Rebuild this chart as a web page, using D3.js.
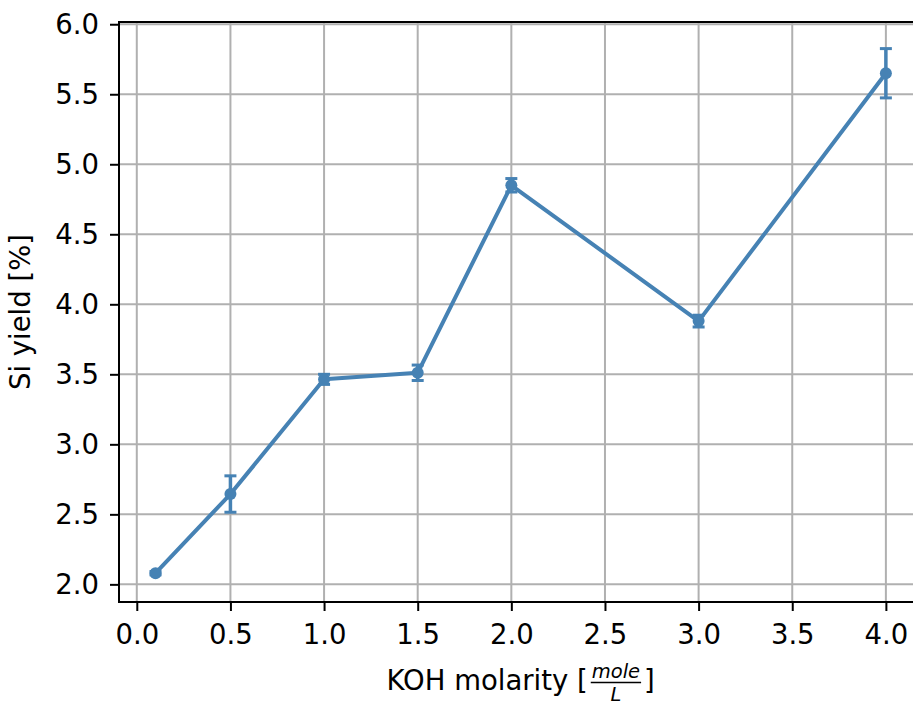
<!DOCTYPE html>
<html>
<head>
<meta charset="utf-8">
<script src="https://cdn.jsdelivr.net/npm/d3@7"></script>
<style>
  html, body { margin: 0; padding: 0; background: #fff; }
  svg { display: block; font-family: "DejaVu Sans", sans-serif; }
</style>
</head>
<body>
<svg id="chart" width="913" height="709"></svg>
<script>
// KOH molarity (mole/L) vs. Si yield (%), with error bars
const molarity = [0.1, 0.5, 1.0, 1.5, 2.0, 3.0, 4.0];
const siYield  = [2.08, 2.645, 3.464, 3.511, 4.85, 3.88, 5.65];
const yieldErr = [0.012, 0.13, 0.036, 0.055, 0.048, 0.042, 0.176];
const xTicks = [0.0, 0.5, 1.0, 1.5, 2.0, 2.5, 3.0, 3.5, 4.0];
const yTicks = [2.0, 2.5, 3.0, 3.5, 4.0, 4.5, 5.0, 5.5, 6.0];

const color = "#4682b4";
const fontSize = 27.5;
const svg = d3.select("#chart");

const plotL = 119, plotR = 922.4, plotT = 22, plotB = 602;
const x = d3.scaleLinear().domain([-0.095, 4.195]).range([plotL, plotR]);
const y = d3.scaleLinear().domain([1.874, 6.016]).range([plotB, plotT]);

// grid
const grid = svg.append("g");
grid.selectAll(".vg").data(xTicks).enter().append("line")
  .attr("x1", d => x(d)).attr("x2", d => x(d))
  .attr("y1", plotT).attr("y2", plotB)
  .attr("stroke", "#b0b0b0").attr("stroke-width", 2);
grid.selectAll(".hg").data(yTicks).enter().append("line")
  .attr("x1", plotL).attr("x2", plotR)
  .attr("y1", d => y(d)).attr("y2", d => y(d))
  .attr("stroke", "#b0b0b0").attr("stroke-width", 2);

// axes
const xAxis = d3.axisBottom(x).tickValues(xTicks).tickFormat(d3.format(".1f"))
  .tickSizeInner(9).tickSizeOuter(0).tickPadding(13);
const yAxis = d3.axisLeft(y).tickValues(yTicks).tickFormat(d3.format(".1f"))
  .tickSizeInner(9).tickSizeOuter(0).tickPadding(11);

const gx = svg.append("g").attr("transform", `translate(0,${plotB})`).call(xAxis);
const gy = svg.append("g").attr("transform", `translate(${plotL},0)`).call(yAxis);
[gx, gy].forEach(g => {
  g.select(".domain").remove();
  g.selectAll(".tick line").attr("stroke", "#000").attr("stroke-width", 2);
  g.selectAll(".tick text").attr("fill", "#000")
    .style("font-size", fontSize + "px").style("font-family", "DejaVu Sans");
});

// spines
svg.append("rect")
  .attr("x", plotL).attr("y", plotT)
  .attr("width", plotR - plotL).attr("height", plotB - plotT)
  .attr("fill", "none").attr("stroke", "#000").attr("stroke-width", 2);

// series
const pts = molarity.map((m, i) => ({ m, v: siYield[i], e: yieldErr[i] }));
const line = d3.line().x(d => x(d.m)).y(d => y(d.v));
svg.append("path").datum(pts)
  .attr("d", line).attr("fill", "none")
  .attr("stroke", color).attr("stroke-width", 4)
  .attr("stroke-linejoin", "round");

const eb = svg.append("g").attr("stroke", color);
eb.selectAll(".ev").data(pts).enter().append("line")
  .attr("x1", d => x(d.m)).attr("x2", d => x(d.m))
  .attr("y1", d => y(d.v - d.e)).attr("y2", d => y(d.v + d.e))
  .attr("stroke-width", 3.5);
eb.selectAll(".ct").data(pts).enter().append("line")
  .attr("x1", d => x(d.m) - 6).attr("x2", d => x(d.m) + 6)
  .attr("y1", d => y(d.v + d.e)).attr("y2", d => y(d.v + d.e))
  .attr("stroke-width", 3);
eb.selectAll(".cb").data(pts).enter().append("line")
  .attr("x1", d => x(d.m) - 6).attr("x2", d => x(d.m) + 6)
  .attr("y1", d => y(d.v - d.e)).attr("y2", d => y(d.v - d.e))
  .attr("stroke-width", 3);

svg.append("g").selectAll("circle").data(pts).enter().append("circle")
  .attr("cx", d => x(d.m)).attr("cy", d => y(d.v)).attr("r", 6)
  .attr("fill", color);

// y label
svg.append("text")
  .attr("transform", `translate(30,${(plotT + plotB) / 2}) rotate(-90)`)
  .attr("text-anchor", "middle")
  .style("font-size", fontSize + "px")
  .text("Si yield [%]");

// x label with fraction
const xl = svg.append("g");
const main = xl.append("text").attr("y", 690).style("font-size", fontSize + "px")
  .text("KOH molarity [");
const num = xl.append("text").attr("y", 678).style("font-size", "19.5px")
  .style("font-style", "italic").attr("text-anchor", "middle").text("mole");
const den = xl.append("text").attr("y", 701).style("font-size", "19.5px")
  .style("font-style", "italic").attr("text-anchor", "middle").text("L");
const close = xl.append("text").attr("y", 690).style("font-size", fontSize + "px")
  .text("]");
const w1 = main.node().getComputedTextLength();
const wf = num.node().getComputedTextLength() + 2;
const w3 = close.node().getComputedTextLength();
const gap = 3;
const total = w1 + gap + wf + gap + w3;
const x0 = (plotL + plotR) / 2 - total / 2;
main.attr("x", x0);
const fc = x0 + w1 + gap + wf / 2;
num.attr("x", fc);
den.attr("x", fc);
xl.append("line").attr("x1", fc - wf / 2).attr("x2", fc + wf / 2)
  .attr("y1", 682.5).attr("y2", 682.5).attr("stroke", "#000").attr("stroke-width", 1.5);
close.attr("x", x0 + w1 + gap + wf + gap);
</script>
</body>
</html>
